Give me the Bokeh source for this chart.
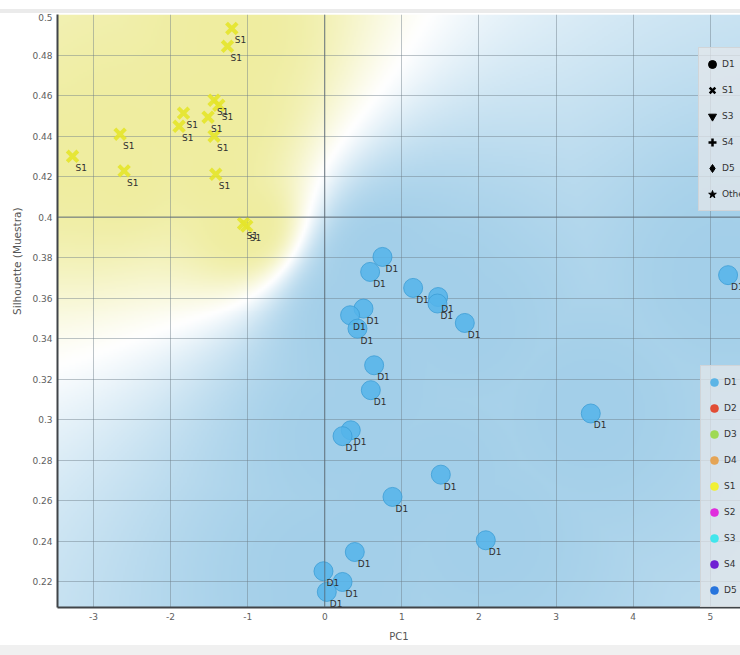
import numpy as np
from bokeh.plotting import figure
from bokeh.models import (FixedTicker, Legend, LegendItem, Span, Title, Div,
                          Range1d, GlobalInlineStyleSheet)
from bokeh.layouts import column
from bokeh.core.properties import value
from bokeh.embed import file_html
from bokeh.resources import INLINE

# ---------------- data ----------------
d1_x = [0.748, 0.588, 1.146, 1.470, 1.461, 1.816, 0.502, 0.328, 0.424,
        0.640, 0.597, 0.337, 0.230, 5.231, 3.450, 1.505, 0.878, 2.088,
        0.389, -0.017, 0.230, 0.026]
d1_y = [0.3803, 0.3729, 0.3650, 0.3605, 0.3573, 0.3477, 0.3548, 0.3515, 0.3449,
        0.3268, 0.3145, 0.2947, 0.2918, 0.3713, 0.3030, 0.2728, 0.2618, 0.2404,
        0.2346, 0.2251, 0.2198, 0.2149]
d1_labels = ["D1"] * len(d1_x)

s1_x = [-1.206, -1.262, -1.436, -1.375, -1.514, -1.436, -1.414, -1.833, -1.890,
        -3.272, -2.655, -2.603, -1.054, -1.012]
s1_y = [0.4931, 0.4843, 0.4577, 0.4552, 0.4493, 0.4399, 0.4211, 0.4513, 0.4448,
        0.4300, 0.4409, 0.4228, 0.3968, 0.3955]
s1_labels = ["S1"] * len(s1_x)

x_ticks = [-3, -2, -1, 0, 1, 2, 3, 4, 5]
x_tick_labels = ["-3", "-2", "-1", "0", "1", "2", "3", "4", "5"]
y_ticks = [0.22, 0.24, 0.26, 0.28, 0.3, 0.32, 0.34, 0.36, 0.38, 0.4,
           0.42, 0.44, 0.46, 0.48, 0.5]
y_tick_labels = ["0.22", "0.24", "0.26", "0.28", "0.3", "0.32", "0.34", "0.36",
                 "0.38", "0.4", "0.42", "0.44", "0.46", "0.48", "0.5"]

shape_labels = ["D1", "S1", "S3", "S4", "D5", "Other"]
shape_markers = ["circle", "x", "inverted_triangle", "cross", "diamond", "star"]

color_labels = ["D1", "D2", "D3", "D4", "S1", "S2", "S3", "S4", "D5"]
color_values = ["#55b2e6", "#e2452b", "#9cd84c", "#e6a14e", "#f2f02a",
                "#e024dc", "#3ae6ec", "#6a16d2", "#1f6fdc"]

# ---------------- ranges ----------------
x_start, x_end = -3.467, 5.392
y_start, y_end = 0.2072, 0.5

FRAME_W, FRAME_H = 683, 593
FONT = "DejaVu Sans"

p = figure(width=740, height=632, output_backend="svg", toolbar_location=None,
           x_range=Range1d(x_start, x_end), y_range=Range1d(y_start, y_end),
           min_border_left=57, min_border_right=0, min_border_top=1,
           min_border_bottom=38, margin=0)
p.border_fill_color = "white"
p.background_fill_color = "white"
p.outline_line_color = None

# ---------------- legend glyph renderers (kept under the background) ----------------
lx, ly = d1_x[:1], d1_y[:1]
shape_items = []
for lab, mk in zip(shape_labels, shape_markers):
    if mk in ("x", "cross"):
        r = p.scatter(lx, ly, marker=mk, size=10, line_color="black",
                      line_width=2.5, level="image")
    else:
        r = p.scatter(lx, ly, marker=mk, size=10, fill_color="black",
                      line_color="black", level="image")
    shape_items.append(LegendItem(label=lab, renderers=[r]))

color_items = []
for lab, c in zip(color_labels, color_values):
    r = p.scatter(lx, ly, marker="circle", size=10, fill_color=c, line_color=c,
                  line_alpha=0.6, fill_alpha=0.95, level="image")
    color_items.append(LegendItem(label=lab, renderers=[r]))

# ---------------- class-density background (from the data) ----------------
nx, ny = 342, 297
gx = np.linspace(x_start, x_end, nx)
gy = np.linspace(y_start, y_end, ny)
sxs = FRAME_W / (x_end - x_start)
sys_ = FRAME_H / (y_end - y_start)
GX, GY = np.meshgrid(gx * sxs, gy * sys_)

def sqdist(xs, ys):
    px = np.asarray(xs) * sxs
    py = np.asarray(ys) * sys_
    return (GX[..., None] - px) ** 2 + (GY[..., None] - py) ** 2

d2s = sqdist(s1_x, s1_y)
d2d = sqdist(d1_x, d1_y)
ws = (1.0 / (d2s + 150.0) ** 2).sum(-1)
wd = 2.1 * (1.0 / (d2d + 150.0) ** 2).sum(-1)
prob = ws / (ws + wd)
t = 2 * prob - 1
near = np.exp(-np.minimum(d2s.min(-1), d2d.min(-1)) / (2 * 150.0 ** 2))
a = (np.clip(np.abs(t), 0, 1) ** 1.1) * (0.7 + 0.3 * near)
yellow = np.array([239, 237, 160], dtype=float)
blue = np.array([163, 207, 233], dtype=float)
colr = np.where(t[..., None] > 0, yellow, blue)
rgb = 255.0 * (1 - a[..., None]) + colr * a[..., None]
img = np.empty((ny, nx), dtype=np.uint32)
view = img.view(dtype=np.uint8).reshape((ny, nx, 4))
view[..., 0] = rgb[..., 0].astype(np.uint8)
view[..., 1] = rgb[..., 1].astype(np.uint8)
view[..., 2] = rgb[..., 2].astype(np.uint8)
view[..., 3] = 255
p.image_rgba(image=[img], x=x_start, y=y_start, dw=x_end - x_start,
             dh=y_end - y_start, level="image")

# ---------------- axes & grid ----------------
for ax in (p.xaxis[0], p.yaxis[0]):
    ax.major_tick_out = 0
    ax.major_tick_in = 0
    ax.minor_tick_out = 0
    ax.minor_tick_in = 0
    ax.major_label_text_font = FONT
    ax.major_label_text_font_size = "9px"
    ax.major_label_text_color = "#606060"
    ax.major_label_standoff = 5
    ax.axis_line_width = 2
    ax.axis_line_color = "#404448"
    ax.axis_label_text_font = FONT
    ax.axis_label_text_font_size = "10px"
    ax.axis_label_text_font_style = "normal"
    ax.axis_label_text_color = "#555555"
    ax.axis_label_standoff = 8

p.xaxis.ticker = FixedTicker(ticks=x_ticks)
p.yaxis.ticker = FixedTicker(ticks=y_ticks)
p.xaxis.major_label_overrides = dict(zip(x_ticks, x_tick_labels))
p.yaxis.major_label_overrides = dict(zip(y_ticks, y_tick_labels))
p.xaxis.axis_label = "PC1"

p.xgrid.ticker = FixedTicker(ticks=x_ticks)
p.ygrid.ticker = FixedTicker(ticks=y_ticks)
for g in (p.xgrid[0], p.ygrid[0]):
    g.grid_line_color = "#6c7c88"
    g.grid_line_alpha = 0.45
    g.grid_line_width = 1

p.add_layout(Span(location=0, dimension="height", line_color="#56646f",
                  line_alpha=0.75, line_width=1))
p.add_layout(Span(location=0.4, dimension="width", line_color="#56646f",
                  line_alpha=0.75, line_width=1))

ylab = Title(text="Silhouette (Muestra)", align="right", offset=193,
             text_font_size="10.5px", text_font_style="normal",
             text_color="#555555", text_font=FONT, standoff=14)
p.add_layout(ylab, "left")

# ---------------- points ----------------
p.scatter(d1_x, d1_y, marker="circle", size=19, fill_color="#55b4ea",
          fill_alpha=0.85, line_color="#3c9ed6", line_alpha=0.8, line_width=1)
p.scatter(s1_x, s1_y, marker="x", size=15, line_color="#e4e42a",
          line_alpha=0.9, line_width=4)
p.text(d1_x + s1_x, d1_y + s1_y, text=d1_labels + s1_labels,
       x_offset=3, y_offset=12, text_align="left", text_baseline="middle",
       text_font=value(FONT), text_font_size="9px", text_color="#303030")

# ---------------- legends ----------------
def style(lg):
    lg.background_fill_color = "#e6e8ea"
    lg.background_fill_alpha = 0.72
    lg.border_line_color = "#cfd3d6"
    lg.border_line_alpha = 0.9
    lg.padding = 3
    lg.spacing = 0
    lg.margin = 0
    lg.glyph_width = 20
    lg.glyph_height = 26
    lg.label_height = 26
    lg.label_standoff = 0
    lg.label_text_font = FONT
    lg.label_text_font_size = "9px"
    lg.label_text_color = "#333333"

leg1 = Legend(items=shape_items, location=(641, 396))
leg2 = Legend(items=color_items, location=(643, 0))
style(leg1)
style(leg2)
p.add_layout(leg1)
p.add_layout(leg2)

# ---------------- page ----------------
top_white = Div(width=740, height=9, margin=0,
                styles={"background-color": "#ffffff"})
top_strip = Div(width=740, height=4, margin=0,
                styles={"background-color": "#ebebeb"})
bottom_strip = Div(width=740, height=10, margin=0,
                   styles={"background-color": "#f0f0f0"})
layout = column(top_white, top_strip, p, bottom_strip, spacing=0, margin=0,
                stylesheets=[GlobalInlineStyleSheet(css="html,body{overflow:hidden;}")])

open("out.html", "w").write(file_html(layout, INLINE))
